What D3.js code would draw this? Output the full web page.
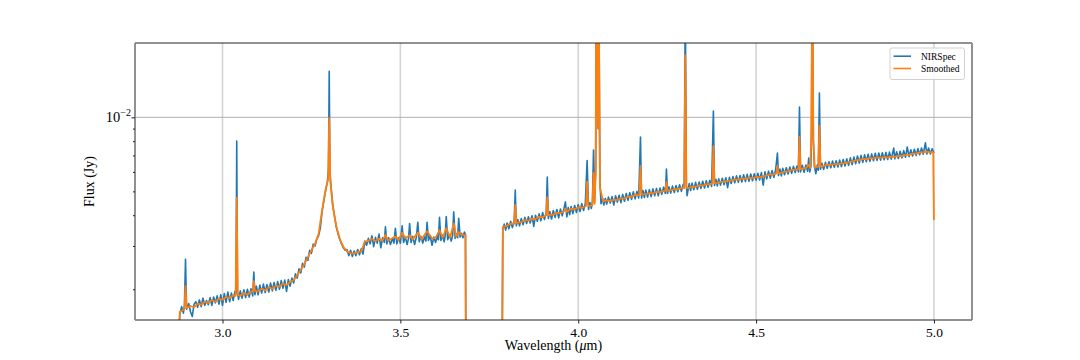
<!DOCTYPE html>
<html><head><meta charset="utf-8">
<script src="https://cdn.jsdelivr.net/npm/d3@7"></script>
<style>
html,body{margin:0;padding:0;background:#fff;}
svg{display:block;font-family:"Liberation Serif","DejaVu Serif",serif;}
</style></head>
<body><svg id="chart" width="1080" height="360"></svg>
<script>
// ---- data (wavelength in µm, flux in mJy; axis shows Jy) ----
const nirspec = [
[2.860,1.10],[2.870,1.12],[2.875,1.15],
[2.880,1.58],[2.885,1.70],[2.890,1.60],[2.893,1.72],[2.896,2.65],[2.899,1.66],[2.905,1.75],[2.910,1.62],[2.915,1.55],[2.920,1.74],[2.925,1.78],[2.930,1.69],[2.935,1.81],[2.940,1.70],[2.945,1.84],[2.950,1.72],[2.955,1.80],[2.960,1.73],[2.965,1.85],[2.970,1.72],[2.975,1.86],[2.980,1.76],[2.985,1.88],[2.990,1.74],[2.995,1.90],[3.000,1.72],[3.005,1.92],[3.010,1.77],[3.015,1.95],[3.020,1.78],[3.025,1.93],[3.030,1.80],[3.035,1.96],[3.038,1.92],[3.040,8.00],[3.042,1.95],[3.045,1.82],[3.050,1.97],[3.055,1.84],[3.060,1.99],[3.065,1.85],[3.070,2.00],[3.075,1.86],[3.080,2.01],[3.085,1.88],[3.088,2.35],[3.091,1.90],[3.095,2.06],[3.100,1.90],[3.105,2.08],[3.110,1.93],[3.115,2.10],[3.120,1.94],[3.125,2.09],[3.130,1.95],[3.135,2.12],[3.140,1.97],[3.145,2.13],[3.150,1.98],[3.155,2.15],[3.160,2.00],[3.165,2.17],[3.170,2.02],[3.175,2.18],[3.180,1.96],[3.185,2.19],[3.190,2.06],[3.195,2.22],[3.200,2.12],[3.205,2.31],[3.210,2.22],[3.215,2.42],[3.220,2.33],[3.225,2.55],[3.230,2.46],[3.235,2.70],[3.240,2.62],[3.245,2.88],[3.250,2.80],[3.255,3.05],[3.260,3.00],[3.265,3.20],[3.270,3.30],[3.275,3.55],[3.280,4.15],[3.285,4.60],[3.290,5.05],[3.295,5.50],[3.298,6.2],[3.300,15.4],[3.302,6.0],[3.305,5.25],[3.310,4.40],[3.315,3.95],[3.320,3.58],[3.325,3.35],[3.330,3.18],[3.335,3.05],[3.340,2.94],[3.345,2.88],[3.350,2.90],[3.355,2.74],[3.360,2.88],[3.365,2.72],[3.370,2.86],[3.375,2.74],[3.380,2.90],[3.385,2.76],[3.390,2.92],[3.395,2.78],[3.400,3.14],[3.405,3.02],[3.410,3.22],[3.415,3.06],[3.420,3.30],[3.425,2.98],[3.430,3.25],[3.435,3.08],[3.440,3.35],[3.445,2.95],[3.450,3.24],[3.455,3.10],[3.458,3.59],[3.462,3.06],[3.467,3.24],[3.472,3.04],[3.478,3.22],[3.482,3.08],[3.486,3.54],[3.490,3.06],[3.495,3.24],[3.500,3.08],[3.505,3.62],[3.509,3.10],[3.514,3.26],[3.519,3.04],[3.523,3.22],[3.526,3.70],[3.530,3.10],[3.535,3.28],[3.540,3.04],[3.545,3.26],[3.549,3.74],[3.553,3.12],[3.558,3.28],[3.563,3.08],[3.568,3.27],[3.572,3.14],[3.575,3.74],[3.579,3.16],[3.584,3.30],[3.589,3.02],[3.594,3.26],[3.599,3.10],[3.604,3.29],[3.607,3.18],[3.610,3.92],[3.614,3.16],[3.619,3.32],[3.623,3.12],[3.626,3.30],[3.629,3.95],[3.633,3.18],[3.638,3.34],[3.643,3.14],[3.647,3.32],[3.650,4.13],[3.654,3.22],[3.658,3.36],[3.661,3.24],[3.664,3.89],[3.668,3.26],[3.672,3.38],[3.676,3.24],[3.680,3.42],[3.683,3.34],[3.685,0.5],
[3.785,0.5],[3.788,3.50],[3.792,3.68],[3.796,3.48],[3.800,3.72],[3.805,3.52],[3.810,3.78],[3.815,3.56],[3.820,3.80],[3.823,5.06],[3.826,3.62],[3.830,3.84],[3.835,3.62],[3.840,3.88],[3.845,3.66],[3.850,3.92],[3.855,3.70],[3.860,3.94],[3.865,3.72],[3.870,3.98],[3.875,3.60],[3.880,4.00],[3.885,3.78],[3.890,4.05],[3.895,3.80],[3.900,4.10],[3.905,3.84],[3.910,4.10],[3.913,5.72],[3.916,3.88],[3.920,4.14],[3.925,3.86],[3.930,4.18],[3.935,3.92],[3.940,4.22],[3.945,3.90],[3.950,4.24],[3.955,3.98],[3.960,4.26],[3.964,4.53],[3.968,3.94],[3.972,4.30],[3.976,4.02],[3.980,4.34],[3.985,4.06],[3.990,4.38],[3.995,4.10],[4.000,4.42],[4.005,4.14],[4.010,4.46],[4.015,4.18],[4.020,4.48],[4.025,6.67],[4.029,4.22],[4.033,4.50],[4.037,4.26],[4.040,4.55],[4.043,7.36],[4.046,4.50],[4.049,6.0],[4.051,50],[4.054,12],[4.056,9],[4.058,35],[4.061,5.5],[4.064,4.45],[4.068,4.70],[4.072,4.40],[4.076,4.68],[4.080,4.44],[4.085,4.74],[4.090,4.48],[4.095,4.76],[4.100,4.40],[4.105,4.80],[4.110,4.52],[4.115,4.82],[4.120,4.50],[4.125,4.86],[4.130,4.56],[4.135,4.90],[4.140,4.60],[4.145,4.94],[4.150,4.64],[4.155,4.98],[4.160,4.66],[4.165,5.00],[4.170,4.70],[4.175,8.32],[4.178,4.70],[4.182,5.04],[4.186,4.72],[4.190,5.06],[4.195,4.74],[4.200,5.08],[4.205,4.76],[4.210,5.12],[4.215,4.80],[4.220,5.14],[4.225,4.80],[4.230,5.16],[4.235,4.86],[4.240,5.20],[4.245,4.90],[4.248,6.16],[4.251,4.90],[4.255,5.22],[4.260,4.92],[4.265,5.26],[4.270,4.94],[4.275,5.28],[4.280,4.98],[4.285,5.32],[4.290,5.00],[4.295,5.34],[4.298,5.30],[4.301,30],[4.304,5.30],[4.306,4.80],[4.312,5.38],[4.316,5.04],[4.320,5.40],[4.325,5.08],[4.330,5.44],[4.335,5.10],[4.340,5.46],[4.345,5.14],[4.350,5.50],[4.355,5.16],[4.360,5.52],[4.365,5.20],[4.370,5.55],[4.375,5.24],[4.380,10.6],[4.383,5.28],[4.387,5.60],[4.391,5.26],[4.395,5.62],[4.400,5.30],[4.405,5.65],[4.410,5.32],[4.415,5.68],[4.420,5.18],[4.425,5.70],[4.430,5.38],[4.435,5.74],[4.440,5.42],[4.445,5.78],[4.450,5.44],[4.455,5.80],[4.460,5.46],[4.465,5.84],[4.470,5.48],[4.475,5.86],[4.480,5.50],[4.485,5.88],[4.490,5.52],[4.495,5.90],[4.500,5.54],[4.505,5.92],[4.510,5.56],[4.515,5.96],[4.520,5.30],[4.525,6.00],[4.530,5.62],[4.535,6.04],[4.540,5.66],[4.545,6.08],[4.550,5.70],[4.555,6.12],[4.560,7.16],[4.563,5.80],[4.567,6.16],[4.571,5.78],[4.575,6.20],[4.580,5.84],[4.585,6.24],[4.590,5.88],[4.595,6.28],[4.600,5.92],[4.605,6.32],[4.610,5.96],[4.615,6.34],[4.619,6.00],[4.622,11.0],[4.625,6.00],[4.630,6.38],[4.635,5.98],[4.640,6.40],[4.645,6.04],[4.648,6.83],[4.651,6.00],[4.654,6.30],[4.656,9],[4.658,45],[4.661,8],[4.664,6.30],[4.668,5.90],[4.672,6.40],[4.675,6.10],[4.678,12.55],[4.681,6.15],[4.685,6.50],[4.690,6.14],[4.695,6.56],[4.700,6.20],[4.705,6.60],[4.710,6.24],[4.715,6.64],[4.720,6.26],[4.725,6.66],[4.730,6.28],[4.735,6.70],[4.740,6.30],[4.745,6.74],[4.750,6.34],[4.755,6.78],[4.760,6.38],[4.765,6.84],[4.770,6.42],[4.775,6.90],[4.780,6.48],[4.785,6.96],[4.790,6.52],[4.795,7.00],[4.800,6.56],[4.805,7.04],[4.810,6.60],[4.815,7.08],[4.820,6.62],[4.825,7.10],[4.830,6.66],[4.835,7.14],[4.840,6.68],[4.845,7.16],[4.850,6.70],[4.855,7.18],[4.860,6.72],[4.865,7.20],[4.870,6.74],[4.875,7.22],[4.880,6.76],[4.887,7.50],[4.890,6.78],[4.895,7.24],[4.900,6.80],[4.905,7.28],[4.910,6.84],[4.915,7.32],[4.920,6.88],[4.925,7.57],[4.930,6.92],[4.935,7.38],[4.940,6.96],[4.945,7.42],[4.950,7.00],[4.955,7.46],[4.960,7.04],[4.965,7.50],[4.970,7.08],[4.976,7.87],[4.980,7.10],[4.985,7.50],[4.990,7.10],[4.995,7.45],[5.000,7.16]
];
const smoothed = [
[2.860,1.10],[2.875,1.15],[2.880,1.62],[2.890,1.65],[2.893,1.67],[2.896,2.06],[2.899,1.68],[2.910,1.71],[2.920,1.69],[2.930,1.75],[2.940,1.73],[2.950,1.78],[2.960,1.76],[2.970,1.81],[2.980,1.78],[2.990,1.83],[3.000,1.81],[3.010,1.86],[3.020,1.84],[3.030,1.89],[3.037,1.88],[3.040,4.70],[3.043,1.90],[3.050,1.88],[3.060,1.93],[3.070,1.90],[3.080,1.96],[3.085,1.95],[3.088,2.16],[3.091,1.97],[3.100,1.96],[3.110,2.01],[3.120,1.98],[3.130,2.04],[3.140,2.01],[3.150,2.07],[3.160,2.05],[3.170,2.11],[3.180,2.08],[3.190,2.14],[3.200,2.18],[3.210,2.28],[3.220,2.40],[3.230,2.53],[3.240,2.70],[3.250,2.88],[3.260,3.06],[3.270,3.35],[3.280,4.20],[3.290,5.10],[3.297,5.6],[3.300,9.94],[3.303,5.5],[3.310,4.35],[3.320,3.60],[3.330,3.20],[3.340,2.97],[3.350,2.85],[3.360,2.80],[3.370,2.80],[3.380,2.83],[3.390,2.85],[3.400,3.12],[3.410,3.15],[3.420,3.20],[3.430,3.14],[3.440,3.21],[3.450,3.15],[3.458,3.33],[3.465,3.16],[3.475,3.21],[3.486,3.28],[3.495,3.17],[3.505,3.40],[3.514,3.22],[3.526,3.32],[3.535,3.19],[3.549,3.40],[3.560,3.20],[3.575,3.44],[3.590,3.21],[3.600,3.26],[3.610,3.48],[3.619,3.24],[3.629,3.54],[3.640,3.25],[3.650,3.70],[3.657,3.27],[3.664,3.42],[3.672,3.33],[3.683,3.32],[3.685,0.5],
[3.785,0.5],[3.788,3.58],[3.800,3.63],[3.810,3.70],[3.820,3.69],[3.823,4.41],[3.826,3.73],[3.840,3.75],[3.850,3.82],[3.860,3.80],[3.870,3.87],[3.880,3.86],[3.890,3.94],[3.900,3.93],[3.910,4.00],[3.913,4.74],[3.916,4.00],[3.930,4.02],[3.940,4.09],[3.950,4.08],[3.960,4.15],[3.964,4.25],[3.968,4.13],[3.980,4.24],[3.990,4.23],[4.000,4.30],[4.010,4.29],[4.022,4.36],[4.025,5.47],[4.028,4.36],[4.040,4.40],[4.043,5.94],[4.046,4.45],[4.049,6.0],[4.051,40],[4.054,12],[4.056,9],[4.058,25],[4.061,5.2],[4.070,4.55],[4.080,4.60],[4.090,4.57],[4.100,4.63],[4.110,4.62],[4.120,4.68],[4.130,4.68],[4.140,4.76],[4.150,4.76],[4.160,4.84],[4.172,4.83],[4.175,6.34],[4.178,4.86],[4.190,4.87],[4.200,4.92],[4.210,4.91],[4.220,4.98],[4.230,4.96],[4.245,5.03],[4.248,5.46],[4.251,5.04],[4.260,5.05],[4.270,5.11],[4.280,5.10],[4.290,5.17],[4.298,5.16],[4.301,17.9],[4.304,5.18],[4.310,5.15],[4.320,5.23],[4.330,5.22],[4.340,5.29],[4.350,5.28],[4.360,5.35],[4.370,5.34],[4.377,5.39],[4.380,7.64],[4.383,5.40],[4.390,5.41],[4.400,5.47],[4.410,5.46],[4.420,5.52],[4.430,5.53],[4.440,5.59],[4.450,5.58],[4.460,5.64],[4.470,5.62],[4.480,5.68],[4.490,5.66],[4.500,5.72],[4.510,5.70],[4.520,5.77],[4.530,5.79],[4.540,5.86],[4.550,5.86],[4.557,5.91],[4.560,6.34],[4.563,5.93],[4.570,5.94],[4.580,6.02],[4.590,6.03],[4.600,6.12],[4.610,6.11],[4.619,6.16],[4.622,8.32],[4.625,6.16],[4.630,6.17],[4.640,6.22],[4.648,6.40],[4.652,6.22],[4.655,8],[4.658,40],[4.661,8],[4.665,6.26],[4.675,6.30],[4.678,9.22],[4.681,6.32],[4.690,6.34],[4.700,6.42],[4.710,6.40],[4.720,6.46],[4.730,6.44],[4.740,6.50],[4.750,6.51],[4.760,6.58],[4.770,6.60],[4.780,6.70],[4.790,6.70],[4.800,6.77],[4.810,6.76],[4.820,6.82],[4.830,6.81],[4.840,6.87],[4.850,6.84],[4.860,6.89],[4.870,6.86],[4.880,6.92],[4.890,6.90],[4.900,6.97],[4.910,6.96],[4.920,7.04],[4.930,7.04],[4.940,7.12],[4.950,7.12],[4.960,7.20],[4.970,7.20],[4.980,7.26],[4.990,7.21],[4.998,7.20],[5.000,3.82]
];
const seriesNames = ["NIRSpec", "Smoothed"];
const seriesColors = ["#1f77b4", "#ff7f0e"];
const xTicks = [3.0, 3.5, 4.0, 4.5, 5.0];
const yMajorTicks = [0.01];
const yMinorTicks = [0.002,0.003,0.004,0.005,0.006,0.007,0.008,0.009];
const xDomain = [2.754, 5.107];
const yDomain = [0.0015, 0.02005];

// ---- layout ----
const L = 135, R = 972, T = 43, B = 320;
const svg = d3.select("#chart");
const x = d3.scaleLinear().domain(xDomain).range([L, R]);
const y = d3.scaleLog().domain(yDomain).range([B, T]);

svg.append("defs").append("clipPath").attr("id","clip")
  .append("rect").attr("x",L).attr("y",T).attr("width",R-L).attr("height",B-T);

// grid
svg.append("g").selectAll("line").data(xTicks).join("line")
  .attr("x1",d=>x(d)).attr("x2",d=>x(d)).attr("y1",T).attr("y2",B)
  .attr("stroke","#d4d4d4").attr("stroke-width",1.6);
svg.append("g").selectAll("line").data(yMajorTicks).join("line")
  .attr("x1",L).attr("x2",R).attr("y1",d=>y(d)).attr("y2",d=>y(d))
  .attr("stroke","#b0b0b0").attr("stroke-width",1);

// lines (mJy -> Jy)
const line = d3.line().x(d=>x(d[0])).y(d=>y(d[1]/1000));
const g = svg.append("g").attr("clip-path","url(#clip)");
[nirspec, smoothed].forEach((s,i)=>{
  g.append("path").datum(s).attr("d",line)
   .attr("fill","none").attr("stroke",seriesColors[i])
   .attr("stroke-width",i===0?1.6:1.8).attr("stroke-linejoin","round");
});

// spines
svg.append("line").attr("x1",L).attr("x2",R).attr("y1",T).attr("y2",T).attr("stroke","#222").attr("stroke-width",1);
svg.append("line").attr("x1",L).attr("x2",R).attr("y1",B).attr("y2",B).attr("stroke","#222").attr("stroke-width",1);
svg.append("line").attr("x1",L).attr("x2",L).attr("y1",T).attr("y2",B).attr("stroke","#858585").attr("stroke-width",1.8);
svg.append("line").attr("x1",R).attr("x2",R).attr("y1",T).attr("y2",B).attr("stroke","#858585").attr("stroke-width",1.8);

// x axis
const xAxis = d3.axisBottom(x).tickValues(xTicks).tickFormat(d3.format(".1f")).tickSize(3.5).tickPadding(3.5);
const gx = svg.append("g").attr("transform",`translate(0,${B})`).call(xAxis);
gx.select(".domain").remove();
gx.selectAll("text").attr("font-size",13.5).attr("font-family","Liberation Serif").attr("fill","#000");
gx.selectAll("line").attr("stroke","#222");

// y axis: major + minor ticks
const gy = svg.append("g").attr("transform",`translate(${L},0)`);
gy.call(d3.axisLeft(y).tickValues(yMinorTicks).tickSize(2).tickFormat(""));
gy.select(".domain").remove();
gy.selectAll("line").attr("stroke","#222");
const gy2 = svg.append("g").attr("transform",`translate(${L},0)`);
gy2.call(d3.axisLeft(y).tickValues(yMajorTicks).tickSize(3.5).tickFormat(""));
gy2.select(".domain").remove();
gy2.selectAll("line").attr("stroke","#222");
yMajorTicks.forEach(v=>{
  const t = svg.append("text").attr("x",L-4).attr("y",y(v)+5)
    .attr("text-anchor","end").attr("font-size",14.5).attr("fill","#000");
  t.append("tspan").text("10");
  t.append("tspan").attr("dy",-6).attr("font-size",10).text("\u2212" + Math.round(-Math.log10(v)));
});

// axis labels
const xl = svg.append("text").attr("x",(L+R)/2).attr("y",350).attr("text-anchor","middle").attr("font-size",14).attr("fill","#000");
xl.append("tspan").text("Wavelength (");
xl.append("tspan").attr("font-style","italic").text("\u03bc");
xl.append("tspan").text("m)");
svg.append("text").attr("transform",`translate(94,${(T+B)/2}) rotate(-90)`)
  .attr("text-anchor","middle").attr("font-size",14).attr("fill","#000").text("Flux (Jy)");

// legend
const lg = svg.append("g");
lg.append("rect").attr("x",890).attr("y",48).attr("width",74.5).attr("height",31.5).attr("rx",2)
  .attr("fill","#fff").attr("fill-opacity",0.85).attr("stroke","#cccccc").attr("stroke-width",0.9);
seriesNames.forEach((n,i)=>{
  const yy = 56.2 + i*12.3;
  lg.append("line").attr("x1",893.5).attr("x2",911).attr("y1",yy).attr("y2",yy)
    .attr("stroke",seriesColors[i]).attr("stroke-width",1.6);
  lg.append("text").attr("x",921).attr("y",yy+3.3).attr("font-size",9.5).attr("fill","#000").text(n);
});
</script></body></html>
